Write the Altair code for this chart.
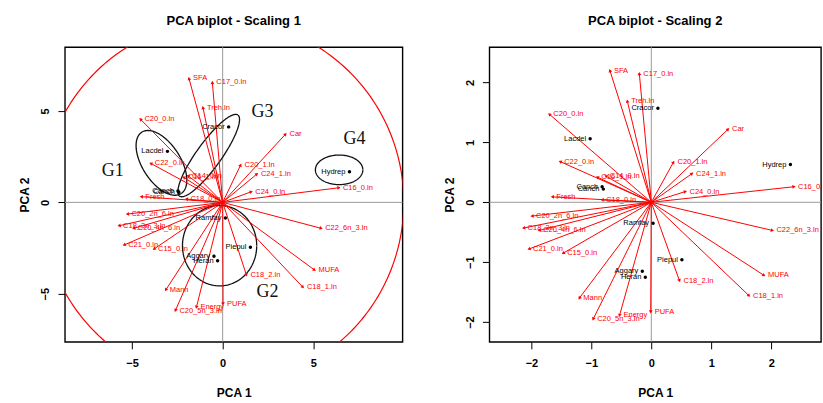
import altair as alt
import pandas as pd

# ---------------- data ----------------
var_names = ["SFA", "C17_0.ln", "Treh.ln", "C20_0.ln", "C22_0.ln", "C16_1.ln", "C14_0.ln",
             "Fresh", "C18_0.ln", "C20_2n_6.ln", "C18_3n_3.ln", "C20_4n_6.ln", "C21_0.ln",
             "C15_0.ln", "Mann", "C20_5n_3.ln", "Energy", "PUFA", "C18_2.ln", "C18_1.ln",
             "MUFA", "C22_6n_3.ln", "C16_0.ln", "C24_0.ln", "C24_1.ln", "C20_1.ln", "Car"]
# scaling 1 (left panel)
s1_var_x = [-1.86, -0.57, -1.09, -4.54, -3.97, -2.15, -1.91, -4.49, -2.00, -5.26, -5.72, -4.91, -5.44,
            -3.79, -3.14, -2.61, -1.45, 0.02, 1.31, 4.43, 5.07, 5.44, 6.42, 1.58, 1.89, 0.99, 3.47]
s1_var_y = [6.78, 6.56, 5.19, 4.55, 2.13, 1.37, 1.45, 0.31, 0.18, -0.64, -1.28, -1.42, -2.33,
            -2.55, -4.79, -5.92, -5.74, -5.56, -3.97, -4.64, -3.70, -1.42, 0.80, 0.58, 1.55, 2.04, 3.73]
# scaling 2 (right panel)
s2_var_x = [-0.69, -0.20, -0.40, -1.70, -1.52, -0.90, -0.76, -1.65, -0.82, -1.99, -2.13, -1.87, -2.04,
            -1.47, -1.20, -0.97, -0.53, -0.01, 0.47, 1.63, 1.88, 2.02, 2.38, 0.57, 0.68, 0.37, 1.28]
s2_var_y = [2.20, 2.15, 1.69, 1.47, 0.68, 0.42, 0.44, 0.09, 0.04, -0.23, -0.43, -0.47, -0.78,
            -0.85, -1.60, -1.95, -1.89, -1.83, -1.31, -1.56, -1.22, -0.47, 0.26, 0.18, 0.48, 0.67, 1.22]

site_names = ["Cracor", "Lacdel", "Cancb", "Canch", "Hydrep", "Ramfay", "Piepul", "Aggary", "Heran"]
s1_site_x = [0.33, -3.05, -2.47, -2.42, 7.00, 0.15, 1.53, -0.48, -0.28]
s1_site_y = [4.13, 2.79, 0.62, 0.55, 1.67, -0.86, -2.46, -2.95, -3.19]
s2_site_x = [0.11, -1.02, -0.82, -0.80, 2.32, 0.03, 0.51, -0.15, -0.10]
s2_site_y = [1.57, 1.06, 0.26, 0.22, 0.63, -0.35, -0.96, -1.15, -1.25]

# group ellipses on the scaling 1 panel: centre, semi-axes, rotation (deg)
grp_names = ["G1", "G2", "G3", "G4"]
grp_cx = [-3.38, -0.17, -0.77, 6.43]
grp_cy = [2.16, -2.37, 2.56, 1.78]
grp_a = [2.00, 2.05, 2.74, 1.31]
grp_b = [1.05, 2.20, 0.68, 0.81]
grp_rot = [-57, 0, 54, 0]
grp_lab_x = [-6.07, 2.48, 2.20, 7.28]
grp_lab_y = [1.71, -4.90, 4.93, 3.46]

circle_radius = [10.0]

# ---------------- helpers ----------------
FONT = "Liberation Sans"
RED = "#ff0000"


def make_panel(vx, vy, sx, sy, xdom, ydom, xticks, yticks, title, width, extra=None):
    def X(f):
        return alt.X(f"{f}:Q", scale=alt.Scale(domain=xdom, nice=False, zero=False),
                     axis=alt.Axis(values=xticks, title="PCA 1"))

    def Y(f):
        return alt.Y(f"{f}:Q", scale=alt.Scale(domain=ydom, nice=False, zero=False),
                     axis=alt.Axis(values=yticks, title="PCA 2"))

    vdf = pd.DataFrame({"name": var_names, "x": vx, "y": vy})
    sdf = pd.DataFrame({"name": site_names, "x": sx, "y": sy})
    zdf = pd.DataFrame({"z": [0]})

    zero_v = alt.Chart(zdf).mark_rule(color="#9a9a9a", strokeWidth=1).encode(x=X("z"))
    zero_h = alt.Chart(zdf).mark_rule(color="#9a9a9a", strokeWidth=1).encode(y=Y("z"))

    arrows = alt.Chart(vdf).transform_calculate(x0="0", y0="0").mark_rule(
        color=RED, strokeWidth=1, clip=True).encode(
        x=X("x0"), y=Y("y0"), x2=alt.X2("x:Q"), y2=alt.Y2("y:Q"))
    heads = alt.Chart(vdf).transform_calculate(
        ang="(450 - atan2(datum.y, datum.x) * 180 / PI) % 360").mark_point(
        shape="triangle-up", filled=True, size=14, color=RED, opacity=1, clip=True).encode(
        x=X("x"), y=Y("y"), angle=alt.Angle("ang:Q", scale=None))
    vlab = alt.Chart(vdf).mark_text(align="left", baseline="middle", dx=4, fontSize=7.5,
                                    font=FONT, color=RED, clip=True).encode(
        x=X("x"), y=Y("y"), text="name:N")
    spts = alt.Chart(sdf).mark_circle(size=12, color="black", opacity=1, clip=True).encode(
        x=X("x"), y=Y("y"))
    slab = alt.Chart(sdf).mark_text(align="right", baseline="middle", dx=-4, fontSize=7.5,
                                    font=FONT, color="black", clip=True).encode(
        x=X("x"), y=Y("y"), text="name:N")

    layers = [zero_v, zero_h]
    if extra is not None:
        layers += extra(X, Y)
    layers += [arrows, heads, vlab, spts, slab]
    return alt.layer(*layers).properties(
        width=width, height=295,
        title=alt.TitleParams(title, fontSize=13, font=FONT, fontWeight="bold",
                              anchor="middle", offset=19, color="black"))


def left_extra(X, Y):
    cdf = pd.DataFrame({"r": circle_radius})
    circ = alt.Chart(cdf).transform_calculate(
        t="sequence(0, 6.30, 0.02)").transform_flatten(["t"]).transform_calculate(
        cxv="datum.r * cos(datum.t)", cyv="datum.r * sin(datum.t)").mark_line(
        color=RED, strokeWidth=1.2, clip=True).encode(
        x=X("cxv"), y=Y("cyv"), order="t:Q")

    edf = pd.DataFrame({"g": grp_names, "cx": grp_cx, "cy": grp_cy,
                        "a": grp_a, "b": grp_b, "rot": grp_rot})
    ell = alt.Chart(edf).transform_calculate(
        t="sequence(0, 6.30, 0.03)").transform_flatten(["t"]).transform_calculate(
        th="datum.rot * PI / 180").transform_calculate(
        ex="datum.cx + datum.a * cos(datum.t) * cos(datum.th) - datum.b * sin(datum.t) * sin(datum.th)",
        ey="datum.cy + datum.a * cos(datum.t) * sin(datum.th) + datum.b * sin(datum.t) * cos(datum.th)"
    ).mark_line(color="#111111", strokeWidth=1.3, clip=True).encode(
        x=X("ex"), y=Y("ey"), detail="g:N", order="t:Q")

    gdf = pd.DataFrame({"g": grp_names, "x": grp_lab_x, "y": grp_lab_y})
    glab = alt.Chart(gdf).mark_text(fontSize=18, font="Liberation Serif", color="#111111",
                                    align="center", baseline="middle").encode(
        x=X("x"), y=Y("y"), text="g:N")
    return [circ, ell, glab]


left = make_panel(s1_var_x, s1_var_y, s1_site_x, s1_site_y,
                  [-8.71, 9.93], [-7.63, 8.49], [-5, 0, 5], [-5, 0, 5],
                  "PCA biplot - Scaling 1", 338, extra=left_extra)
right = make_panel(s2_var_x, s2_var_y, s2_site_x, s2_site_y,
                   [-2.70, 2.83], [-2.33, 2.59], [-2, -1, 0, 1, 2], [-2, -1, 0, 1, 2],
                   "PCA biplot - Scaling 2", 332)

chart = alt.hconcat(left, right, spacing=87, bounds="flush").properties(
    padding={"left": 18, "top": 13, "right": 0, "bottom": 0},
    background="white"
).configure_view(
    stroke="black", strokeWidth=1.4
).configure_axis(
    grid=False, domain=False, ticks=True, tickColor="black", tickSize=7, tickWidth=1,
    labelFont=FONT, labelFontSize=11, labelFontWeight="bold", labelColor="black",
    titleFont=FONT, titleFontSize=12, titleFontWeight="bold", titleColor="black"
).configure_axisX(
    labelPadding=9, titlePadding=19
).configure_axisY(
    labelAngle=-90, labelAlign="center", labelBaseline="bottom", labelPadding=7, titlePadding=8
)

chart.save("out.html", embed_options={"renderer": "svg", "actions": False})
